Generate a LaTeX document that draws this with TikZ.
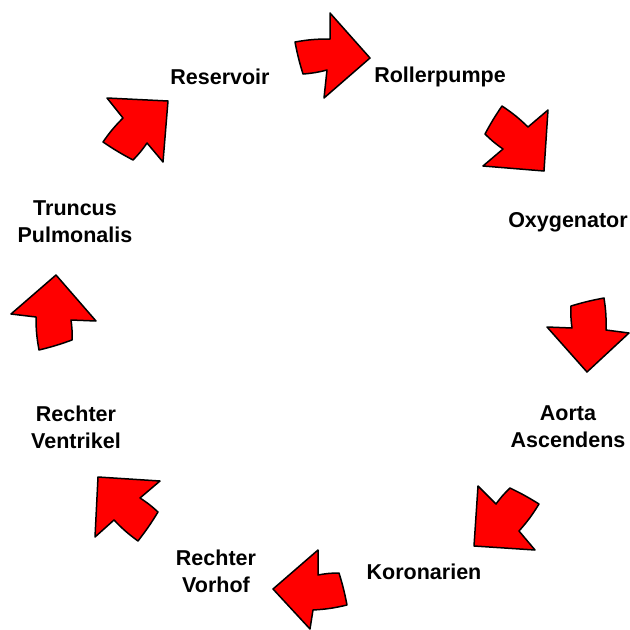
\documentclass[tikz,border=0pt]{standalone}
\usepackage{fontspec}
\setmainfont{Liberation Sans}
\begin{document}
\begin{tikzpicture}[x=1pt,y=-1pt,
  blockarrow/.style={fill=red,draw=black,line width=1.5pt,line join=round},
  lbl/.style={font=\fontsize{21.5}{27}\selectfont\bfseries,align=center,inner sep=0pt}]
\useasboundingbox (0,0) rectangle (630,630);
% labels
\node[lbl] (res) at (220,77) {Reservoir};
\node[lbl] (rol) at (440,77) {Rollerpumpe};
\node[lbl] (oxy) at (568,222) {Oxygenator};
\node[lbl] (aor) at (568,427) {Aorta\\Ascendens};
\node[lbl] (kor) at (424,572) {Koronarien};
\node[lbl] (rvh) at (216,571) {Rechter\\Vorhof};
\node[lbl] (rvt) at (76,427) {Rechter\\Ventrikel};
\node[lbl] (tru) at (75,222) {Truncus\\Pulmonalis};
% arrows
\draw[blockarrow] (295,42) to[bend left=5] (330,39) -- (330,13) -- (370,58) -- (324,98) -- (327,70) to[bend left=5] (303,74) to[bend left=3] cycle;
\draw[blockarrow] (502,106) to[bend left=5] (528,127) -- (548,110) -- (544,171) -- (483,166) -- (503,149) to[bend left=5] (485,134) to[bend left=3] cycle;
\draw[blockarrow] (604,298) to[bend left=5] (606,330) -- (629,333) -- (587,372) -- (547,327) -- (572,328) to[bend left=5] (571,306) to[bend left=3] cycle;
\draw[blockarrow] (539,504) to[bend left=5] (519,531) -- (535,550) -- (474,546) -- (478,486) -- (496,504) to[bend left=5] (510,488) to[bend left=3] cycle;
\draw[blockarrow] (347,605) to[bend left=5] (313,610) -- (310,629) -- (273,589) -- (318,550) -- (318,575) to[bend left=5] (339,573) to[bend left=3] cycle;
\draw[blockarrow] (138,541) to[bend left=5] (114,520) -- (95,537) -- (98,477) -- (160,481) -- (140,498) to[bend left=5] (158,512) to[bend left=3] cycle;
\draw[blockarrow] (39,350) to[bend left=5] (36,317) -- (11,314) -- (56,275) -- (96,321) -- (71,320) to[bend left=5] (72,340) to[bend left=3] cycle;
\draw[blockarrow] (103,142) to[bend left=5] (123,118) -- (107,98) -- (168,101) -- (163,162) -- (147,143) to[bend left=5] (133,160) to[bend left=3] cycle;
\end{tikzpicture}
\end{document}
